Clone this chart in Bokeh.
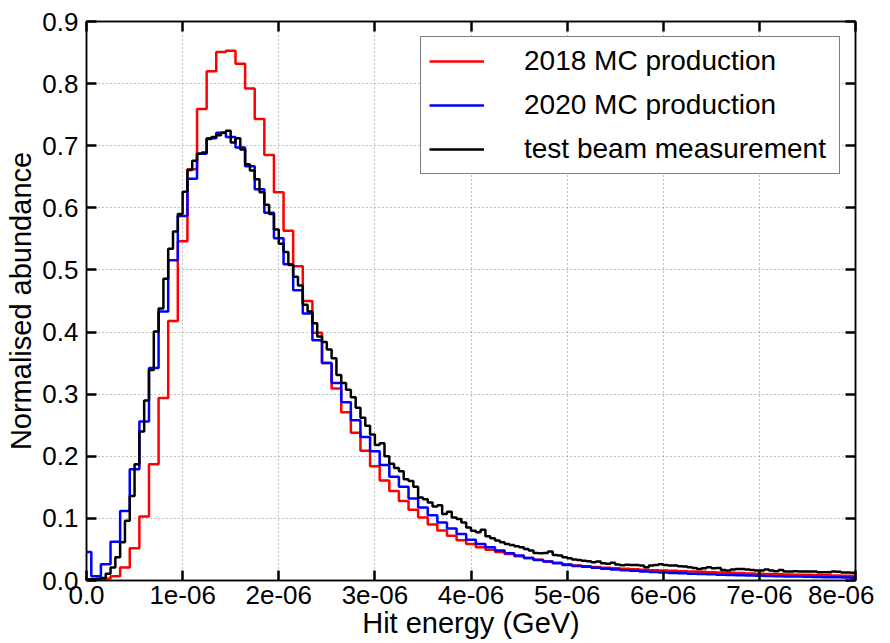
import numpy as np
from bokeh.plotting import figure
from bokeh.models import (Range1d, FixedTicker, LinearAxis, Legend, LegendItem,
                          CustomJSTickFormatter, PrintfTickFormatter)
from bokeh.embed import file_html
from bokeh.resources import INLINE

# ---------------- data ----------------
# MC histograms: bins of width 1e-7 GeV centred on 0, 1e-7, ..., 8e-6
mc_bin_width = 1e-7
red_2018 = [0.001, 0.001, 0.003, 0.007, 0.021, 0.052, 0.103, 0.187, 0.294, 0.418,
            0.546, 0.662, 0.759, 0.820, 0.851, 0.853, 0.832, 0.792, 0.743, 0.685,
            0.625, 0.563, 0.506, 0.450, 0.399, 0.350, 0.309, 0.271, 0.238, 0.209,
            0.184, 0.161, 0.144, 0.128, 0.114, 0.1016, 0.090, 0.0806, 0.072, 0.0647,
            0.0587, 0.0535, 0.0495, 0.0458, 0.0425, 0.0392, 0.0362, 0.0334, 0.0307, 0.0284,
            0.0262,
            0.0240, 0.0228, 0.0216, 0.0205, 0.0196, 0.0188, 0.0181, 0.0174, 0.0167, 0.0161,
            0.0155, 0.0149, 0.0144, 0.0139, 0.0134, 0.0129, 0.0124, 0.0119, 0.0114, 0.0110,
            0.0106, 0.0102, 0.0098, 0.0094, 0.0091, 0.0088, 0.0085, 0.0081, 0.0078, 0.0075]
blue_2020 = [0.046, 0.007, 0.026, 0.0625, 0.112, 0.179, 0.256, 0.342, 0.433, 0.5155,
             0.587, 0.647, 0.687, 0.712, 0.721, 0.714, 0.697, 0.667, 0.630, 0.592,
             0.551, 0.509, 0.4675, 0.430, 0.387, 0.350, 0.318, 0.287, 0.258, 0.231,
             0.208, 0.186, 0.167, 0.151, 0.132, 0.1176, 0.105, 0.0935, 0.0839, 0.0748,
             0.0657, 0.0588, 0.0535, 0.0481, 0.0439, 0.0401, 0.0364, 0.0332, 0.0305, 0.0278,
             0.0251,
             0.0235, 0.0220, 0.0205, 0.0191, 0.0178, 0.0166, 0.0155, 0.0146, 0.0137, 0.0129,
             0.0122, 0.0116, 0.0110, 0.0104, 0.0099, 0.0094, 0.0089, 0.0085, 0.0081, 0.0077,
             0.0073, 0.0070, 0.0066, 0.0063, 0.0060, 0.0057, 0.0054, 0.0051, 0.0048, 0.0045]

# test beam: bins of width 5e-8 GeV from 0 to 8e-6
tb_bin_width = 5e-8
black_tb = [
    # 0 - 1e-6
    0.002, 0.002, 0.003, 0.004, 0.011, 0.021, 0.0375, 0.0615, 0.096, 0.136,
    0.187, 0.240, 0.290, 0.339, 0.401, 0.438, 0.486, 0.534, 0.562, 0.590,
    # 1e-6 - 2e-6
    0.626, 0.661, 0.676, 0.687, 0.689, 0.711, 0.714, 0.717, 0.721, 0.724,
    0.705, 0.712, 0.694, 0.670, 0.660, 0.646, 0.625, 0.605, 0.590, 0.565,
    # 2e-6 - 3e-6
    0.542, 0.529, 0.508, 0.489, 0.475, 0.444, 0.433, 0.414, 0.393, 0.384,
    0.372, 0.358, 0.331, 0.318, 0.307, 0.295, 0.278, 0.262, 0.249, 0.235,
    # 3e-6 - 4e-6
    0.218, 0.221, 0.200, 0.188, 0.181, 0.176, 0.163, 0.160, 0.151, 0.1336,
    0.131, 0.1256, 0.119, 0.121, 0.107, 0.1107, 0.1016, 0.099, 0.0935, 0.0855,
    # 4e-6 - 5e-6
    0.0802, 0.0775, 0.0818, 0.0711, 0.0679, 0.0642, 0.0615, 0.0588, 0.0572, 0.0551,
    0.0535, 0.0508, 0.0481, 0.0444, 0.0439, 0.0444, 0.0465, 0.0412, 0.0401, 0.0375,
    # 5e-6 - 6e-6
    0.0359, 0.0337, 0.0332, 0.0316, 0.0311, 0.0295, 0.0305, 0.0278, 0.0268, 0.0284,
    0.0257, 0.0246, 0.0252, 0.0250, 0.0248, 0.0240, 0.0214, 0.0240, 0.0250, 0.0262,
    # 6e-6 - 7e-6
    0.0250, 0.0240, 0.0240, 0.0229, 0.0224, 0.0214, 0.0203, 0.0187, 0.0198, 0.0214,
    0.0198, 0.0203, 0.0171, 0.0160, 0.0176, 0.0187, 0.0187, 0.0176, 0.0171, 0.0160,
    # 7e-6 - 8e-6
    0.0160, 0.0176, 0.0160, 0.0150, 0.0171, 0.0145, 0.0145, 0.0150, 0.0145, 0.0145,
    0.0145, 0.0145, 0.0134, 0.0134, 0.0134, 0.0145, 0.0140, 0.0130, 0.0128, 0.0125,
]

series_labels = ["2018 MC production", "2020 MC production", "test beam measurement"]
x_ticks = [0, 1e-6, 2e-6, 3e-6, 4e-6, 5e-6, 6e-6, 7e-6, 8e-6]
y_ticks = [0.0, 0.1, 0.2, 0.3, 0.4, 0.5, 0.6, 0.7, 0.8, 0.9]


def step_xy(first_left_edge, width, values):
    n = len(values)
    edges = first_left_edge + width * np.arange(n + 1)
    return list(edges), list(values) + [values[-1]]


FONT = "Liberation Sans"

p = figure(width=874, height=641, output_backend="svg", toolbar_location=None,
           x_range=Range1d(0, 8e-6), y_range=Range1d(0, 0.9),
           min_border_left=86, min_border_right=19, min_border_top=21,
           min_border_bottom=55, background_fill_color="white",
           border_fill_color="white")

rx, ry = step_xy(-0.5 * mc_bin_width, mc_bin_width, red_2018)
bx, by = step_xy(-0.5 * mc_bin_width, mc_bin_width, blue_2020)
kx, ky = step_xy(0.0, tb_bin_width, black_tb)

r_red = p.step(rx, ry, mode="after", line_color="#ff0000", line_width=2.5)
r_blue = p.step(bx, by, mode="after", line_color="#0000ff", line_width=2.5)
r_black = p.step(kx, ky, mode="after", line_color="black", line_width=2.5)

# axes
xa = p.xaxis[0]
ya = p.yaxis[0]
xa.ticker = FixedTicker(ticks=x_ticks)
ya.ticker = FixedTicker(ticks=y_ticks)
xa.formatter = CustomJSTickFormatter(code="""
if (tick == 0) { return "0.0"; }
const s = tick.toExponential(0);
return s.replace(/e-(\\d)$/, "e-0$1");
""")
ya.formatter = PrintfTickFormatter(format="%.1f")
xa.axis_label = "Hit energy (GeV)"
ya.axis_label = "Normalised abundance"

for ax in (xa, ya):
    ax.major_tick_in = 10
    ax.major_tick_out = 0
    ax.major_tick_line_width = 2.5
    ax.major_tick_line_color = "black"
    ax.minor_tick_line_color = None
    ax.axis_line_width = 1.5
    ax.axis_line_color = "black"
    ax.major_label_text_font = FONT
    ax.major_label_text_font_size = "26px"
    ax.major_label_text_color = "black"
    ax.axis_label_text_font = FONT
    ax.axis_label_text_font_size = "29px"
    ax.axis_label_text_font_style = "normal"
    ax.axis_label_text_color = "black"
xa.major_label_standoff = 5
xa.axis_label_standoff = 0
ya.major_label_standoff = 8
ya.axis_label_standoff = 2

# tick marks on the top and right edges (no labels)
top = LinearAxis(ticker=FixedTicker(ticks=x_ticks), major_label_text_font_size="8px",
                 major_label_text_color=None,
                 major_tick_in=10, major_tick_out=0, major_tick_line_width=2.5,
                 minor_tick_line_color=None, major_label_standoff=0,
                 axis_line_width=1.5, axis_line_color="black")
right = LinearAxis(ticker=FixedTicker(ticks=y_ticks), major_label_text_font_size="8px",
                   major_label_text_color=None,
                   major_tick_in=10, major_tick_out=0, major_tick_line_width=2.5,
                   minor_tick_line_color=None, major_label_standoff=0,
                   axis_line_width=1.5, axis_line_color="black")
p.add_layout(top, "above")
p.add_layout(right, "right")

p.xgrid.ticker = FixedTicker(ticks=x_ticks)
p.ygrid.ticker = FixedTicker(ticks=y_ticks)
p.grid.grid_line_color = "#808080"
p.grid.grid_line_dash = "1 3"
p.grid.grid_line_width = 1
p.outline_line_color = "black"
p.outline_line_width = 1.5

legend = Legend(items=[LegendItem(label=series_labels[0], renderers=[r_red]),
                       LegendItem(label=series_labels[1], renderers=[r_blue]),
                       LegendItem(label=series_labels[2], renderers=[r_black])],
                location="top_right", margin=15, padding=8, spacing=12,
                glyph_width=55, glyph_height=30, label_standoff=40,
                label_width=307,
                label_text_font=FONT, label_text_font_size="28px",
                label_text_color="black",
                border_line_color="black", border_line_width=1,
                background_fill_color="white", background_fill_alpha=1.0)
p.add_layout(legend)

open("out.html", "w").write(file_html(p, INLINE))
